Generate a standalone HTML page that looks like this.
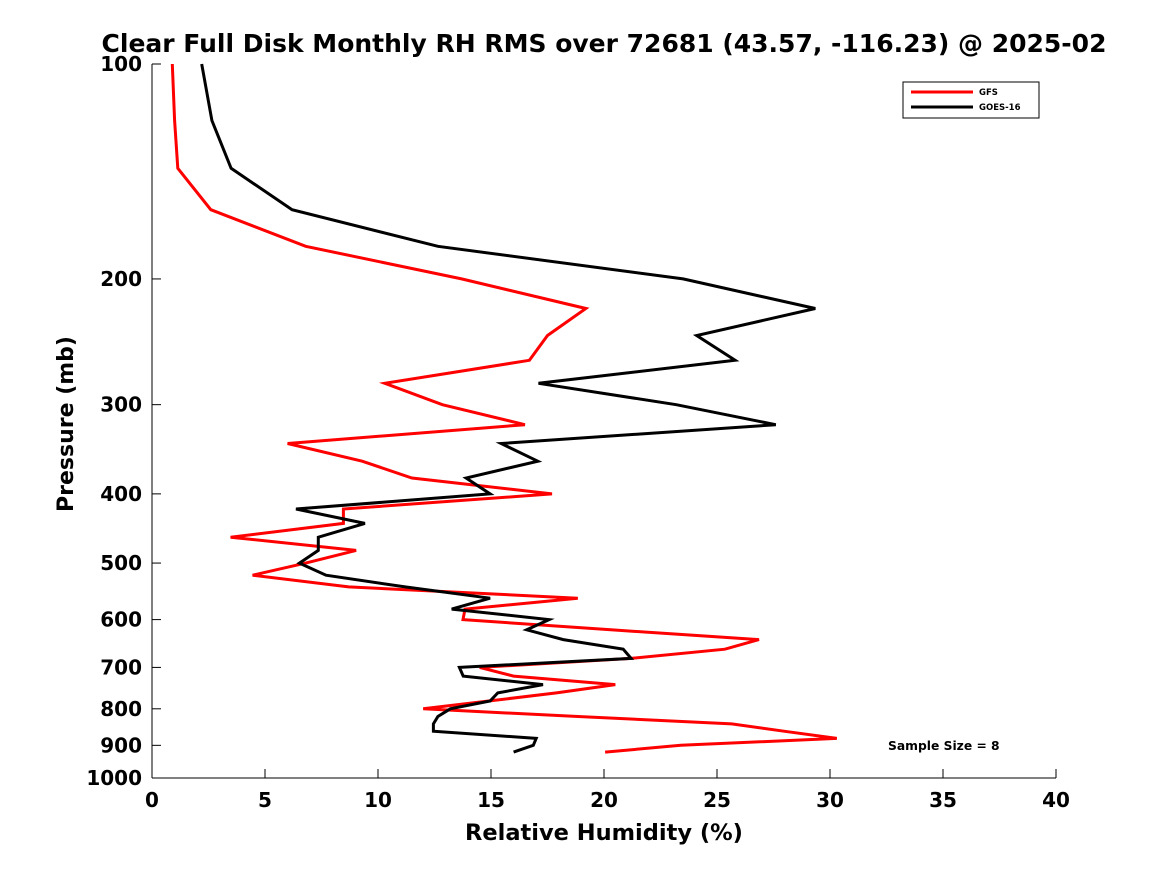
<!DOCTYPE html>
<html><head><meta charset="utf-8"><style>
body{margin:0;background:#fff;}
svg{display:block;font-family:"DejaVu Sans","Liberation Sans",sans-serif;}
</style></head><body>
<svg id="chart" width="1167" height="875" viewBox="0 0 1167 875">
<rect width="1167" height="875" fill="#fff"/>
<text x="604" y="52" text-anchor="middle" font-size="25" font-weight="bold">Clear Full Disk Monthly RH RMS over 72681 (43.57, -116.23) @ 2025-02</text>
<g id="axes"></g>
<g id="series"></g>
<g>
<rect x="903" y="82" width="136" height="36" fill="#fff" stroke="#000" stroke-width="1"/>
<line x1="911" y1="92" x2="973" y2="92" stroke="#f00" stroke-width="3"/>
<text x="979" y="95" font-size="8.5" font-weight="bold">GFS</text>
<line x1="911" y1="107" x2="973" y2="107" stroke="#000" stroke-width="3"/>
<text x="979" y="110" font-size="8.5" font-weight="bold">GOES-16</text>
</g>
<text x="888" y="750" font-size="12.3" font-weight="bold">Sample Size = 8</text>
<text x="604" y="840" text-anchor="middle" font-size="22.5" font-weight="bold">Relative Humidity (%)</text>
<text transform="translate(73,424) rotate(-90)" text-anchor="middle" font-size="22" font-weight="bold">Pressure (mb)</text>
</svg>
<script>
const pressures=[100,120,140,160,180,200,220,240,260,280,300,320,340,360,380,400,420,440,460,480,500,520,540,560,580,600,620,640,660,680,700,720,740,760,780,800,820,840,860,880,900,920];
const gfsValues=[0.9,1.0,1.14,2.6,6.8,13.7,19.2,17.5,16.7,10.3,12.85,16.5,6.0,9.3,11.5,17.7,8.47,8.47,3.48,9.03,6.8,4.45,8.7,18.84,13.85,13.76,20.3,26.86,25.35,21.2,14.5,16.0,20.5,17.9,14.9,12.0,18.85,25.65,27.96,30.3,23.4,20.05];
const goesValues=[2.2,2.65,3.5,6.2,12.65,23.5,29.35,24.1,25.8,17.1,23.2,27.6,15.45,17.07,13.9,14.96,6.37,9.42,7.36,7.36,6.52,7.7,11.2,14.96,13.26,17.57,16.58,18.2,20.85,21.2,13.6,13.77,17.3,15.3,14.96,13.2,12.65,12.45,12.45,17.0,16.87,16.0];
const xTicks=[0,5,10,15,20,25,30,35,40];
const yTicks=[100,200,300,400,500,600,700,800,900,1000];

const L=152,R=1056,T=64,B=778;
const xS=v=>L+(v-0)/(40-0)*(R-L);
const yS=p=>T+(Math.log10(p)-2)*(B-T);
const NS="http://www.w3.org/2000/svg";
function mk(tag,attrs,parent){const e=document.createElementNS(NS,tag);for(const k in attrs)e.setAttribute(k,attrs[k]);parent.appendChild(e);return e;}
const ax=document.getElementById('axes');
const yAxis=mk('line',{x1:L,y1:T,x2:L,y2:B,stroke:'#000','stroke-width':1},ax);


const xAxis=mk('line',{x1:L,y1:B,x2:R,y2:B,stroke:'#000','stroke-width':1},ax);


xTicks.forEach(v=>{
  const t=mk('line',{x1:xS(v),y1:B,x2:xS(v),y2:B-9,stroke:'#000','stroke-width':1},ax);
  
  
  const l=mk('text',{x:xS(v),y:B+29,'text-anchor':'middle','font-size':20,'font-weight':'bold'},ax);
  l.textContent=v;
  
  
});
yTicks.forEach(p=>{
  const t=mk('line',{x1:L,y1:yS(p),x2:L+9,y2:yS(p),stroke:'#000','stroke-width':1},ax);
  
  
  const l=mk('text',{x:L-10,y:yS(p)+7,'text-anchor':'end','font-size':20,'font-weight':'bold'},ax);
  l.textContent=p;
  
  
});
const sg=document.getElementById('series');
function line(vals,color,name){
  const d=vals.map((v,i)=>(i?'L':'M')+xS(v).toFixed(1)+','+yS(pressures[i]).toFixed(1)).join(' ');
  const pth=mk('path',{d:d,fill:'none',stroke:color,'stroke-width':3,'stroke-linejoin':'miter'},sg);
  
  
}
line(gfsValues,'#f00','gfs-line');
line(goesValues,'#000','goes16-line');
</script>
</body></html>
